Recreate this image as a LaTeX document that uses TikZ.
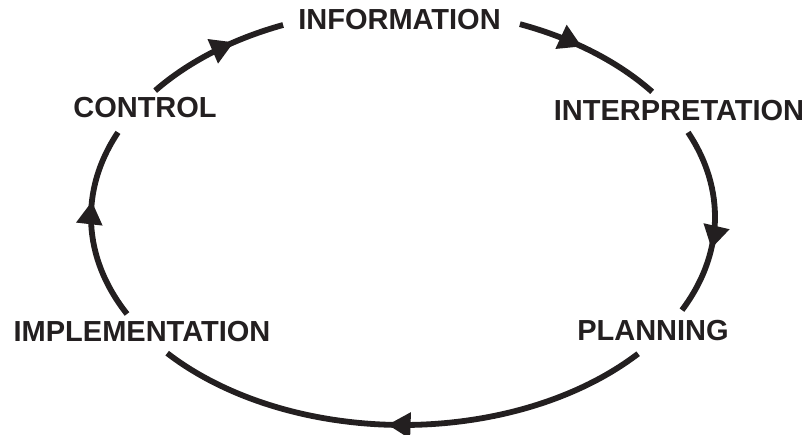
\documentclass[tikz,border=0pt]{standalone}
\usepackage{fontspec}
\setmainfont{Liberation Sans}
\usetikzlibrary{arrows.meta,decorations.markings}
\definecolor{ink}{RGB}{35,31,32}
\begin{document}
\begin{tikzpicture}[x=1bp,y=1bp,
  lbl/.style={font=\bfseries\fontsize{29bp}{32bp}\selectfont, inner sep=0pt, text=ink},
  flow/.style={line width=5.8bp, draw=ink},
  tipat/.style={postaction={decorate}, decoration={markings,
     mark=at position #1 with {\arrow[ink]{Triangle[length=23bp,width=25bp]}}}},
  ell/.style={x radius=312bp, y radius=208bp}
]
\useasboundingbox (0,0) rectangle (810,435);
\coordinate (ctr) at (403,218);

\node[lbl] (info)   at (399.5,415) {INFORMATION};
\node[lbl] (interp) at (679,324)   {INTERPRETATION};
\node[lbl] (plan)   at (653,104)   {PLANNING};
\node[lbl] (impl)   at (142,103)   {IMPLEMENTATION};
\node[lbl] (ctrl)   at (145,327.5) {CONTROL};

\coordinate (ctrl-out)   at ([shift={(142.6:312bp and 208bp)}]ctr);
\coordinate (info-out)   at ([shift={(68:312bp and 208bp)}]ctr);
\coordinate (interp-out) at ([shift={(24:312bp and 208bp)}]ctr);
\coordinate (plan-out)   at ([shift={(-41.1:312bp and 208bp)}]ctr);
\coordinate (impl-out)   at ([shift={(-152.2:312bp and 208bp)}]ctr);

\draw[flow, tipat=0.64] (ctrl-out) arc[ell, start angle=142.6, end angle=112.6] coordinate (info-in);
\draw[flow, tipat=0.44] (info-out) arc[ell, start angle=68, end angle=37] coordinate (interp-in);
\draw[flow, tipat=0.64] (interp-out) arc[ell, start angle=24, end angle=-26.6] coordinate (plan-in);
\draw[flow, tipat=0.53] (plan-out) arc[ell, start angle=-41.1, end angle=-139.1] coordinate (impl-in);
\draw[flow, tipat=0.62] (impl-out) arc[ell, start angle=-152.2, end angle=-204] coordinate (ctrl-in);
\end{tikzpicture}
\end{document}
